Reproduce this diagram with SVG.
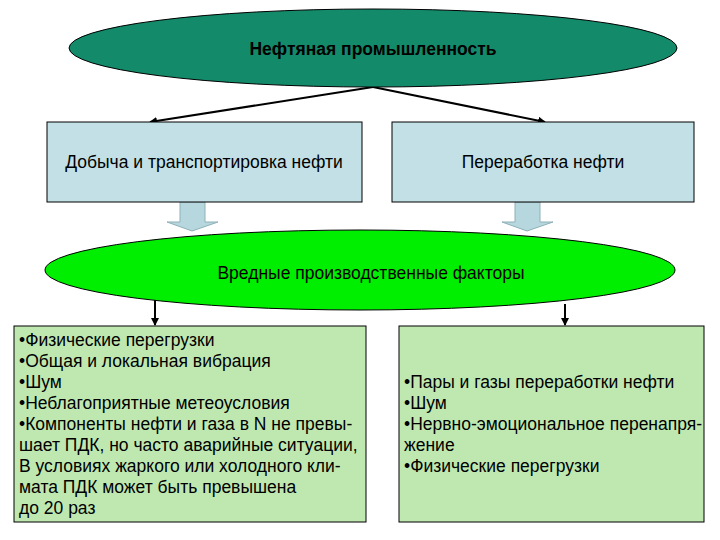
<svg xmlns="http://www.w3.org/2000/svg" width="720" height="540" viewBox="0 0 720 540">
<defs><marker id="ah" markerWidth="8" markerHeight="8" refX="7" refY="4" orient="auto" markerUnits="userSpaceOnUse"><path d="M0,0 L8,4 L0,8 z" fill="#000"/></marker></defs>
<style>text{font-family:"Liberation Sans",Arial,sans-serif;font-size:17.5px;fill:#000}.b{stroke:#000;stroke-width:1}.blk{fill:#b7d7de;stroke:#8fb0b8;stroke-width:1}</style>
<rect width="720" height="540" fill="#fff"/>
<g id="connectors" stroke="#000" stroke-width="2" fill="none">
<line x1="373" y1="87" x2="150" y2="122" marker-end="url(#ah)"/>
<line x1="373" y1="87" x2="545" y2="122" marker-end="url(#ah)"/>
<line x1="155" y1="296" x2="155" y2="325" marker-end="url(#ah)"/>
<line x1="565" y1="304" x2="565" y2="325" marker-end="url(#ah)"/>
<path class="blk" stroke-width="1" d="M180,202 H205 V222 H218 L192,231 L167,222 H180 Z"/>
<path class="blk" stroke-width="1" d="M515,202 H540 V222 H553 L527,231 L502,222 H515 Z"/>
</g>
<g id="top"><ellipse cx="373" cy="48" rx="304" ry="39" fill="#138b6b" class="b"/><text x="373" y="55" text-anchor="middle" font-weight="bold" font-size="19">Нефтяная промышленность</text></g>
<g id="left"><rect x="47" y="122" width="315" height="80" fill="#c2e0e6" class="b"/><text x="204" y="168" text-anchor="middle" font-size="18">Добыча и транспортировка нефти</text></g>
<g id="right"><rect x="392" y="122" width="302" height="80" fill="#c2e0e6" class="b"/><text x="543" y="168" text-anchor="middle" font-size="18">Переработка нефти</text></g>
<g id="mid"><ellipse cx="360" cy="270" rx="315" ry="40" fill="#00ee00" class="b"/><text x="371" y="279" text-anchor="middle" font-size="23" fill="#063">Вредные производственные факторы</text></g>
<g id="bl"><rect x="14" y="326" width="352" height="196" fill="#bfe8b0" class="b"/>
<text x="19" y="346">•Физические перегрузки</text>
<text x="19" y="367">•Общая и локальная вибрация</text>
<text x="19" y="388">•Шум</text>
<text x="19" y="409">•Неблагоприятные метеоусловия</text>
<text x="19" y="430">•Компоненты нефти и газа в N не превы-</text>
<text x="19" y="451">шает ПДК, но часто аварийные ситуации,</text>
<text x="19" y="472">В условиях жаркого или холодного кли-</text>
<text x="19" y="493">мата ПДК может быть превышена</text>
<text x="19" y="514">до 20 раз</text></g>
<g id="br"><rect x="399" y="326" width="305" height="196" fill="#bfe8b0" class="b"/>
<text x="404" y="388">•Пары и газы переработки нефти</text>
<text x="404" y="409">•Шум</text>
<text x="404" y="430">•Нервно-эмоциональное перенапря-</text>
<text x="404" y="451">жение</text>
<text x="404" y="472">•Физические перегрузки</text></g>
</svg>
